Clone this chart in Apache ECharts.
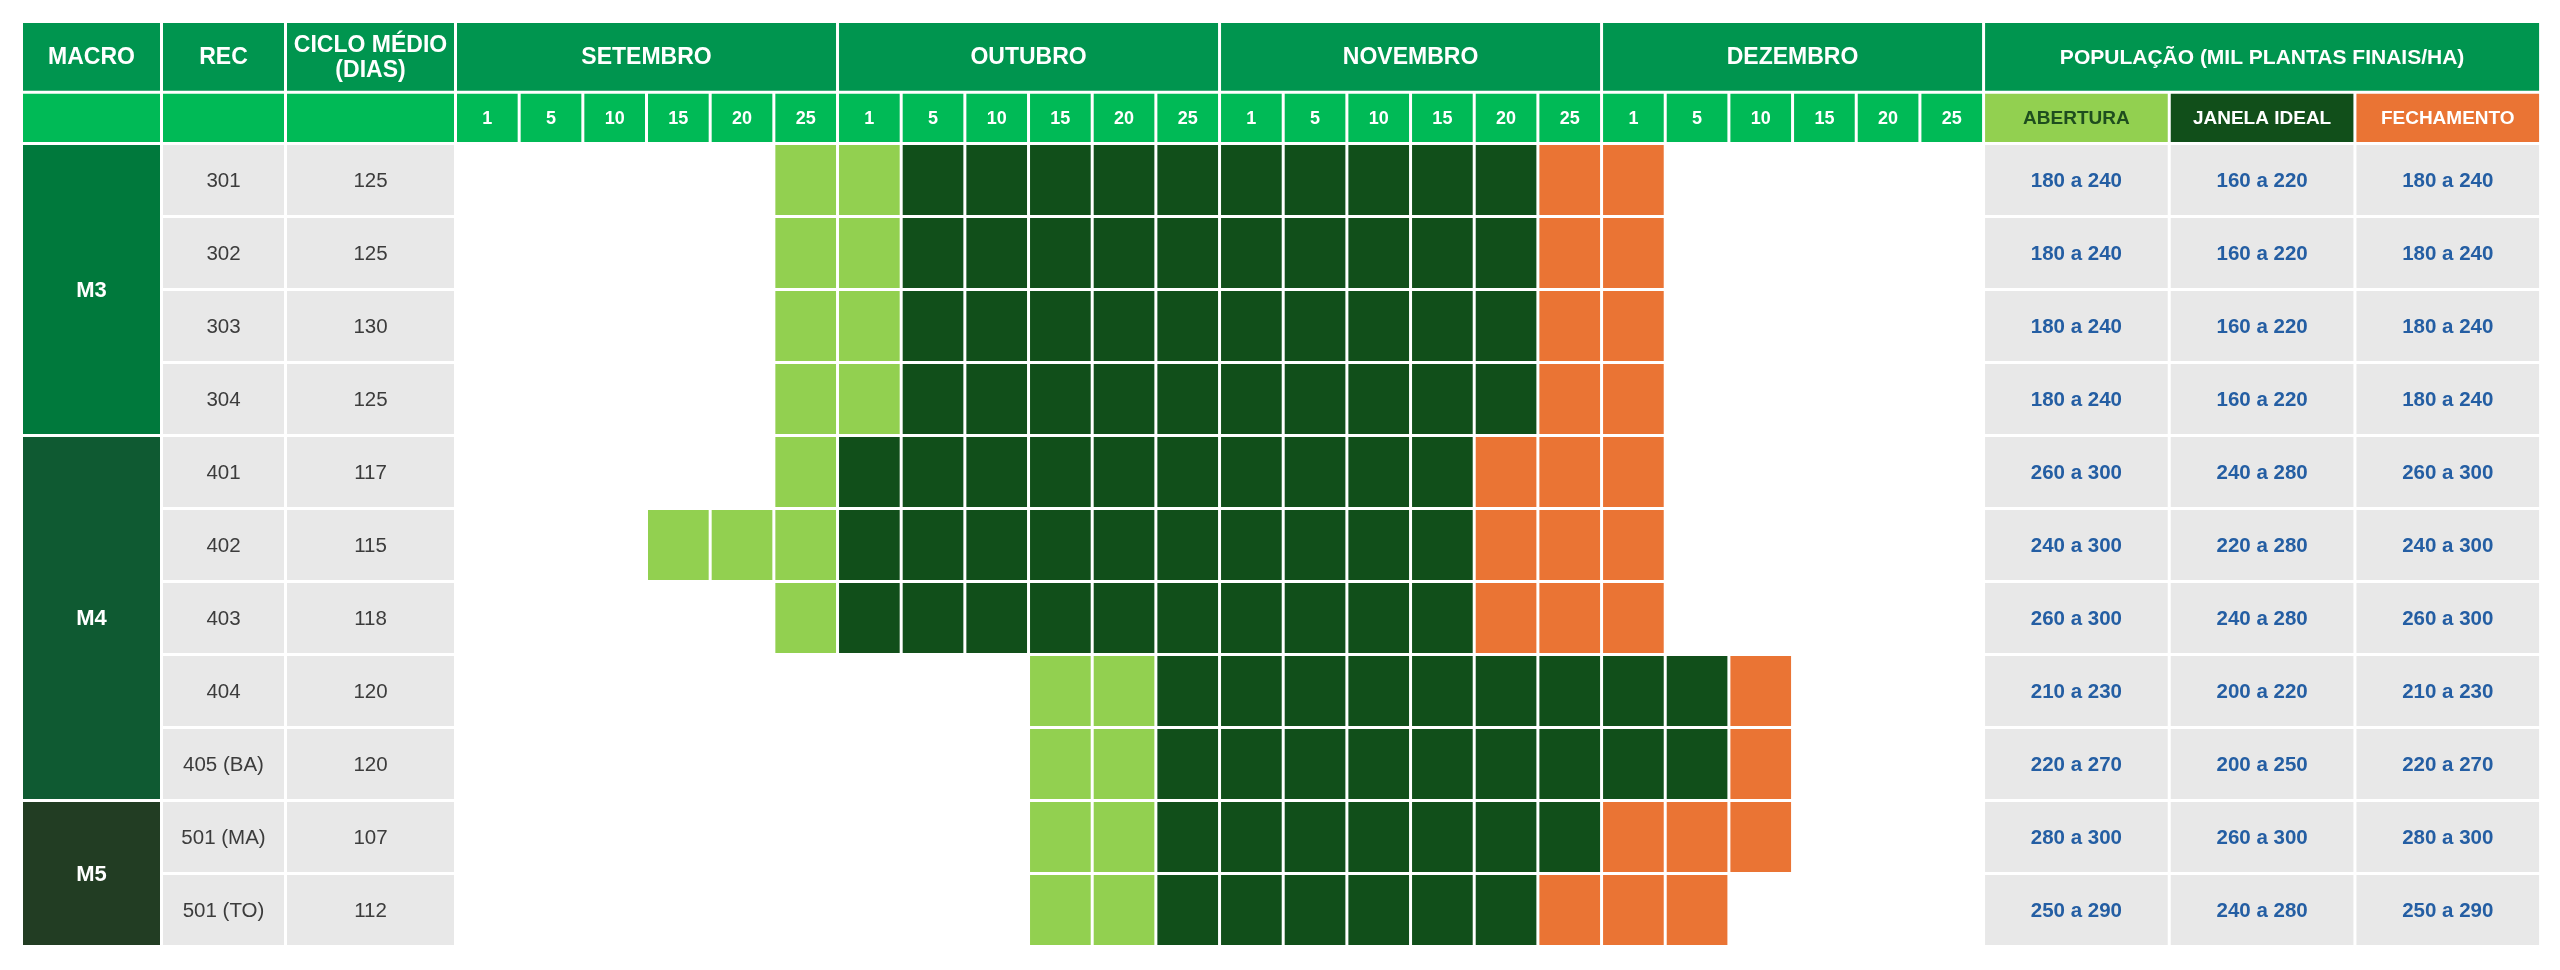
<!DOCTYPE html>
<html>
<head>
<meta charset="utf-8">
<script src="https://cdn.jsdelivr.net/npm/echarts@6/dist/echarts.min.js"></script>
<style>
html, body { margin: 0; padding: 0; background: #fff; }
#main { width: 2560px; height: 970px; }
</style>
</head>
<body>
<div id="main"></div>
<script>
// dados da tabela
var macros = ['M3', 'M4', 'M5'];
var macroRows = [4, 5, 2];
var recs = ['301', '302', '303', '304', '401', '402', '403', '404', '405 (BA)', '501 (MA)', '501 (TO)'];
var ciclos = ['125', '125', '130', '125', '117', '115', '118', '120', '120', '107', '112'];
var months = ['SETEMBRO', 'OUTUBRO', 'NOVEMBRO', 'DEZEMBRO'];
var days = ['1', '5', '10', '15', '20', '25'];
// faixas de colunas (indice do dia 0..23) [inicio, fim]
var abertura   = [[5, 6], [5, 6], [5, 6], [5, 6], [5, 5], [3, 5], [5, 5], [9, 10], [9, 10], [9, 10], [9, 10]];
var ideal      = [[7, 16], [7, 16], [7, 16], [7, 16], [6, 15], [6, 15], [6, 15], [11, 19], [11, 19], [11, 17], [11, 16]];
var fechamento = [[17, 18], [17, 18], [17, 18], [17, 18], [16, 18], [16, 18], [16, 18], [20, 20], [20, 20], [18, 20], [17, 19]];
var popAbertura   = ['180 a 240', '180 a 240', '180 a 240', '180 a 240', '260 a 300', '240 a 300', '260 a 300', '210 a 230', '220 a 270', '280 a 300', '250 a 290'];
var popIdeal      = ['160 a 220', '160 a 220', '160 a 220', '160 a 220', '240 a 280', '220 a 280', '240 a 280', '200 a 220', '200 a 250', '260 a 300', '240 a 280'];
var popFechamento = ['180 a 240', '180 a 240', '180 a 240', '180 a 240', '260 a 300', '240 a 300', '260 a 300', '210 a 230', '220 a 270', '280 a 300', '250 a 290'];
var popHeader = 'POPULAÇÃO (MIL PLANTAS FINAIS/HA)';
var popSub = ['ABERTURA', 'JANELA IDEAL', 'FECHAMENTO'];

// layout
var FONT = '"Liberation Sans", Arial, sans-serif';
var GAP = 3;
var colWidths = [140, 124, 170];
for (var i = 0; i < 24; i++) colWidths.push(63.67);
colWidths.push(185.67, 185.67, 185.67);
var rowHeights = [70.7, 51.3];
for (var i = 0; i < recs.length; i++) rowHeights.push(73);

var colEdge = [0], rowEdge = [0];
colWidths.forEach(function (w, i) { colEdge.push(colEdge[i] + w); });
rowHeights.forEach(function (h, i) { rowEdge.push(rowEdge[i] + h); });
var totalW = colEdge[colEdge.length - 1];
var totalH = rowEdge[rowEdge.length - 1];

var C = {
    head: '#00954F',
    sub: '#00BA56',
    m: ['#00793C', '#0F5A32', '#223D23'],
    gray: '#E8E8E8',
    light: '#92D050',
    dark: '#114F1A',
    orange: '#EA7434',
    blue: '#245EA3',
    txt: '#3C3C3C'
};

var cells = [];
function cell(c0, c1, r0, r1, fill, text, color, size, bold) {
    cells.push({ c0: c0, c1: c1, r0: r0, r1: r1, fill: fill, text: text || '', color: color || '#fff', size: size || 21, bold: bold });
}

// cabecalho 1
cell(0, 1, 0, 1, C.head, 'MACRO', '#fff', 23, true);
cell(1, 2, 0, 1, C.head, 'REC', '#fff', 23, true);
cell(2, 3, 0, 1, C.head, 'CICLO MÉDIO\n(DIAS)', '#fff', 23, true);
months.forEach(function (m, k) {
    cell(3 + k * 6, 3 + k * 6 + 6, 0, 1, C.head, m, '#fff', 23, true);
});
cell(27, 30, 0, 1, C.head, popHeader, '#fff', 21, true);

// cabecalho 2
cell(0, 1, 1, 2, C.sub);
cell(1, 2, 1, 2, C.sub);
cell(2, 3, 1, 2, C.sub);
months.forEach(function (m, k) {
    days.forEach(function (d, j) {
        var c = 3 + k * 6 + j;
        cell(c, c + 1, 1, 2, C.sub, d, '#fff', 18, true);
    });
});
cell(27, 28, 1, 2, C.light, popSub[0], '#1E4D1E', 19, true);
cell(28, 29, 1, 2, C.dark, popSub[1], '#fff', 19, true);
cell(29, 30, 1, 2, C.orange, popSub[2], '#fff', 19, true);

// macro
var r = 2;
macros.forEach(function (m, k) {
    cell(0, 1, r, r + macroRows[k], C.m[k], m, '#fff', 22, true);
    r += macroRows[k];
});

// linhas
recs.forEach(function (rec, i) {
    var row = 2 + i;
    cell(1, 2, row, row + 1, C.gray, rec, C.txt, 20.5, false);
    cell(2, 3, row, row + 1, C.gray, ciclos[i], C.txt, 20.5, false);
    [[abertura, C.light], [ideal, C.dark], [fechamento, C.orange]].forEach(function (ph) {
        var rg = ph[0][i];
        for (var d = rg[0]; d <= rg[1]; d++) cell(3 + d, 4 + d, row, row + 1, ph[1]);
    });
    cell(27, 28, row, row + 1, C.gray, popAbertura[i], C.blue, 20.5, true);
    cell(28, 29, row, row + 1, C.gray, popIdeal[i], C.blue, 20.5, true);
    cell(29, 30, row, row + 1, C.gray, popFechamento[i], C.blue, 20.5, true);
});

var myChart = echarts.init(document.getElementById('main'));

var option = {
    backgroundColor: '#fff',
    animation: false,
    grid: { left: 23, top: 23, width: totalW, height: totalH },
    xAxis: { type: 'value', min: 0, max: totalW, show: false },
    yAxis: { type: 'value', min: 0, max: totalH, inverse: true, show: false },
    series: [{
        type: 'custom',
        clip: false,
        encode: { x: [0, 2], y: [1, 3] },
        data: cells.map(function (c) {
            return [colEdge[c.c0], rowEdge[c.r0], colEdge[c.c1], rowEdge[c.r1]];
        }),
        renderItem: function (params, api) {
            var c = cells[params.dataIndex];
            var p0 = api.coord([api.value(0), api.value(1)]);
            var p1 = api.coord([api.value(2), api.value(3)]);
            var w = p1[0] - p0[0] - GAP;
            var h = p1[1] - p0[1] - GAP;
            return {
                type: 'group',
                children: [{
                    type: 'rect',
                    shape: { x: p0[0], y: p0[1], width: w, height: h },
                    style: { fill: c.fill }
                }, {
                    type: 'text',
                    x: p0[0] + w / 2,
                    y: p0[1] + h / 2 + 1,
                    style: {
                        text: c.text,
                        fill: c.color,
                        font: (c.bold ? 'bold ' : '') + c.size + 'px ' + FONT,
                        lineHeight: 25,
                        align: 'center',
                        verticalAlign: 'middle'
                    }
                }]
            };
        }
    }]
};

myChart.setOption(option);
</script>
</body>
</html>
